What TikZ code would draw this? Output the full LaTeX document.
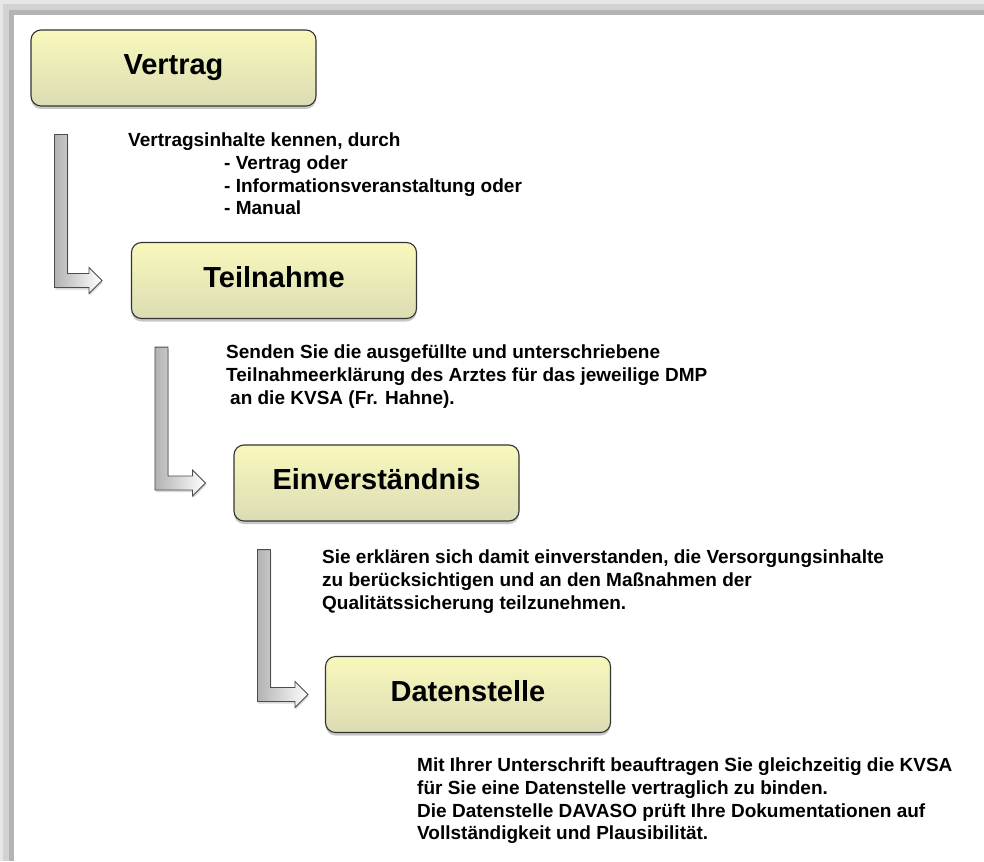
\documentclass[tikz,border=0pt]{standalone}
\usepackage{fontspec}
\setmainfont{Liberation Sans}
\usetikzlibrary{calc,shadows}

\definecolor{gelbhell}{HTML}{F8F8BC}
\definecolor{gelbdunkel}{HTML}{DCDCB4}
\definecolor{randhell}{HTML}{E6E6E6}
\definecolor{randmittel}{HTML}{D2D2D2}
\definecolor{randdunkel}{HTML}{B4B4B4}

\newcommand{\winkelpfeil}[3]{%
  \draw[pfeil] let \p1=(#1.south west), \p2=(#2.west) in
    (\x1+24pt,\y1-28pt) -- (\x1+37pt,\y1-28pt) -- (\x1+37pt,\y2+7pt)
    -- (\x2-#3-13pt,\y2+7pt) -- (\x2-#3-13pt,\y2+13pt) -- (\x2-#3,\y2)
    -- (\x2-#3-13pt,\y2-13pt) -- (\x2-#3-13pt,\y2-7pt) -- (\x1+24pt,\y2-7pt) -- cycle;
}

\begin{document}
\begin{tikzpicture}[
  x=1pt, y=-1pt,
  kasten/.style={rectangle, draw=black!80, line width=1.1pt, rounded corners=10pt,
    top color=gelbhell, bottom color=gelbdunkel,
    minimum width=285pt, minimum height=76pt, inner sep=0pt,
    text height=21pt, text depth=8pt,
    font=\fontsize{29}{34}\selectfont\bfseries,
    drop shadow={shadow xshift=0pt, shadow yshift=-3pt, opacity=0.3, fill=black!70}},
  notiz/.style={anchor=north west, inner sep=0pt, align=left,
    font=\fontsize{19}{22.6}\selectfont\bfseries},
  pfeil/.style={draw=black!70, line width=0.9pt, line join=miter,
    left color=black!30, right color=white,
    drop shadow={shadow xshift=1pt, shadow yshift=-2pt, opacity=0.25, fill=black!60}}
]
\useasboundingbox (0,0) rectangle (984,861);
\fill[randhell] (0,0) rectangle (984,861);
\fill[randmittel] (3,4) rectangle (984,861);
\fill[randdunkel] (9,10) rectangle (984,861);
\fill[white] (14,15) rectangle (984,861);

\node[kasten] (vertrag) at (173.5,68) {Vertrag};
\node[kasten] (teilnahme) at (274,280.5) {Teilnahme};
\node[kasten] (einverstaendnis) at (376.5,483) {Einverständnis};
\node[kasten] (datenstelle) at (468,694.5) {Datenstelle};

\node[notiz] (inhalte) at (128,133) {Vertragsinhalte kennen, durch\\
  \hspace*{96pt}- Vertrag oder\\
  \hspace*{96pt}- Informationsveranstaltung oder\\
  \hspace*{96pt}- Manual};
\node[notiz] (senden) at (226,345) {Senden Sie die ausgefüllte und unterschriebene\\
  Teilnahmeerklärung des Arztes für das jeweilige DMP\\
  \hspace*{4pt}an die KVSA (Fr. Hahne).};
\node[notiz] (erklaeren) at (322,550) {Sie erklären sich damit einverstanden, die Versorgungsinhalte\\
  zu berücksichtigen und an den Maßnahmen der\\
  Qualitätssicherung teilzunehmen.};
\node[notiz] (unterschrift) at (417,758) {Mit Ihrer Unterschrift beauftragen Sie gleichzeitig die KVSA\\
  für Sie eine Datenstelle vertraglich zu binden.\\
  Die Datenstelle DAVASO prüft Ihre Dokumentationen auf\\
  Vollständigkeit und Plausibilität.};

\winkelpfeil{vertrag}{teilnahme}{29pt}
\winkelpfeil{teilnahme}{einverstaendnis}{28pt}
\winkelpfeil{einverstaendnis}{datenstelle}{17pt}
\end{tikzpicture}
\end{document}
